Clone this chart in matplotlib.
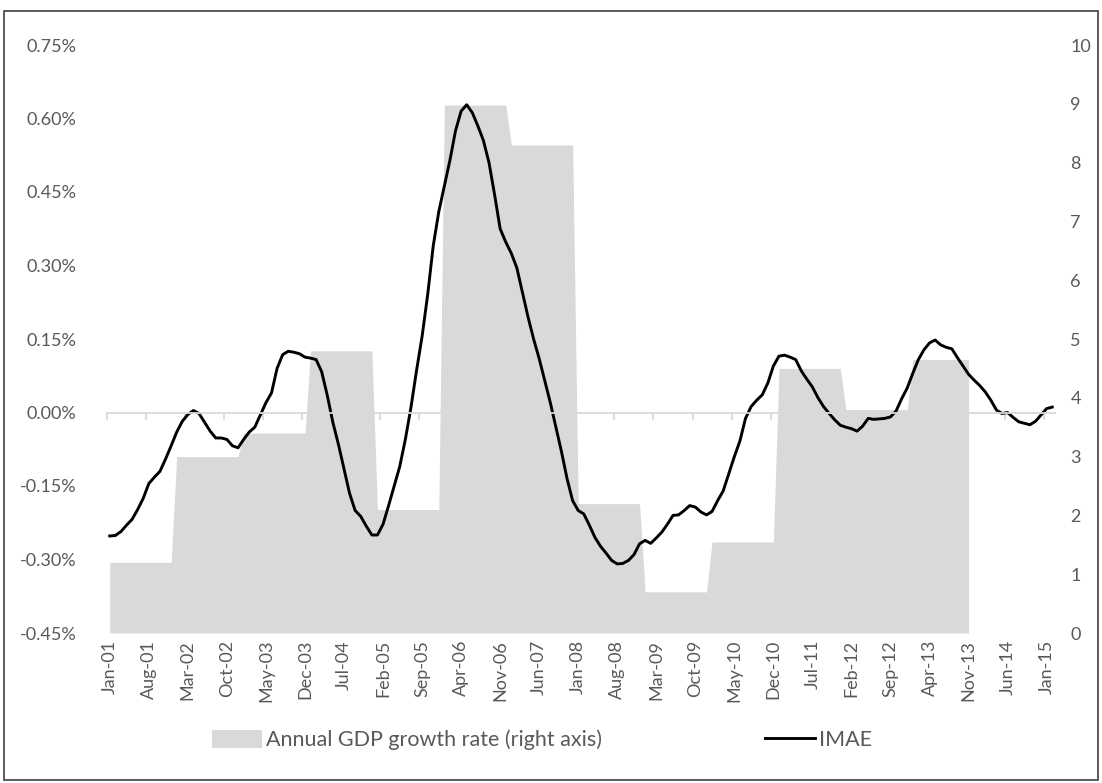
import numpy as np
import matplotlib.pyplot as plt
from matplotlib.patches import Patch, Rectangle
from matplotlib.lines import Line2D

plt.rcParams['font.family'] = ['Lato', 'DejaVu Sans']

# monthly labels Jan-01 .. Feb-15
month_names = ["Jan", "Feb", "Mar", "Apr", "May", "Jun",
               "Jul", "Aug", "Sep", "Oct", "Nov", "Dec"]
n_months = 170
month_labels = [f"{month_names[i % 12]}-{(1 + i // 12):02d}" for i in range(n_months)]

# annual GDP growth rate (right axis), 2013 only up to Nov
gdp_years = [2001, 2002, 2003, 2004, 2005, 2006, 2007, 2008, 2009, 2010, 2011, 2012, 2013]
gdp_growth = [1.2, 3.0, 3.4, 4.8, 2.1, 8.98, 8.3, 2.2, 0.7, 1.55, 4.5, 3.8, 4.65]
gdp_months = [12, 12, 12, 12, 12, 12, 12, 12, 12, 12, 12, 12, 11]

# IMAE (left axis, %)
imae = [
    -0.252, -0.251, -0.243, -0.230, -0.218, -0.198, -0.175, -0.145, -0.132, -0.120,
    -0.095, -0.068, -0.040, -0.018, -0.004, 0.004, -0.002, -0.020, -0.038, -0.052,
    -0.052, -0.055, -0.068, -0.072, -0.055, -0.040, -0.030, -0.005, 0.020, 0.040,
    0.090, 0.118, 0.125, 0.123, 0.120, 0.113, 0.111, 0.108, 0.083, 0.035,
    -0.020, -0.065, -0.115, -0.165, -0.200, -0.212, -0.232, -0.250, -0.250, -0.228,
    -0.190, -0.150, -0.110, -0.055, 0.010, 0.085, 0.155, 0.240, 0.340, 0.410,
    0.462, 0.515, 0.575, 0.615, 0.628, 0.612, 0.585, 0.555, 0.510, 0.445,
    0.375, 0.348, 0.325, 0.295, 0.245, 0.195, 0.150, 0.110, 0.065, 0.020,
    -0.030, -0.080, -0.135, -0.180, -0.200, -0.207, -0.230, -0.255, -0.273, -0.287,
    -0.302, -0.309, -0.308, -0.302, -0.290, -0.268, -0.261, -0.267, -0.256, -0.244,
    -0.228, -0.210, -0.209, -0.200, -0.190, -0.193, -0.203, -0.209, -0.202, -0.180,
    -0.160, -0.125, -0.090, -0.058, -0.012, 0.012, 0.025, 0.036, 0.060, 0.095,
    0.115, 0.117, 0.113, 0.108, 0.085, 0.068, 0.052, 0.030, 0.012, -0.002,
    -0.015, -0.026, -0.030, -0.033, -0.038, -0.028, -0.012, -0.014, -0.013, -0.012,
    -0.009, 0.003, 0.028, 0.050, 0.080, 0.108, 0.128, 0.142, 0.148, 0.138,
    0.133, 0.130, 0.112, 0.095, 0.078, 0.066, 0.055, 0.042, 0.025, 0.005,
    -0.002, 0.000, -0.010, -0.019, -0.022, -0.025, -0.018, -0.005, 0.008, 0.011,
]

left_ticks = [-0.45, -0.30, -0.15, 0.00, 0.15, 0.30, 0.45, 0.60, 0.75]
right_ticks = list(range(0, 11))

gdp_monthly = np.repeat(gdp_growth, gdp_months)
x_gdp = np.arange(len(gdp_monthly))
x = np.arange(n_months)

text_color = "#595959"
fill_color = "#d9d9d9"

fig = plt.figure(figsize=(11.02, 7.83), dpi=100)
ax = fig.add_axes([107 / 1102, 1 - 633 / 783, (1055 - 107) / 1102, (633 - 45) / 783])
ax2 = ax.twinx()

# area on the right axis, drawn behind the line
ax2.fill_between(x_gdp, gdp_monthly, 0, color=fill_color, lw=0)
ax2.set_ylim(0, 10)
ax2.set_yticks(right_ticks)
ax2.tick_params(axis='y', length=0, pad=11, labelsize=13, labelcolor=text_color)

ax.set_zorder(ax2.get_zorder() + 1)
ax.patch.set_visible(False)
ax.plot(x, imae, color="black", lw=2.1)
ax.set_ylim(-0.45, 0.75)
ax.set_yticks(left_ticks)
ax.set_yticklabels([f"{v:.2f}%" for v in left_ticks])
ax.tick_params(axis='y', length=0, pad=22, labelsize=13, labelcolor=text_color)
ax.set_xlim(-0.5, n_months - 0.5)

# horizontal axis line crossing at 0 with tick marks every 7 months
ax.spines['bottom'].set_position(('data', 0))
ax.spines['bottom'].set_color(fill_color)
ax.spines['bottom'].set_linewidth(1.3)
ax.set_xticks(np.arange(-0.5, n_months, 7))
ax.tick_params(axis='x', length=5, width=1.3, color=fill_color, labelbottom=False)

for a in (ax, ax2):
    for s in ('top', 'left', 'right'):
        a.spines[s].set_visible(False)
ax2.spines['bottom'].set_visible(False)

# month labels at the bottom of the plot
sec = ax.secondary_xaxis('bottom')
sec.spines['bottom'].set_visible(False)
sec.set_xticks(x[::7])
sec.set_xticklabels(month_labels[::7], rotation=90)
sec.tick_params(axis='x', length=0, pad=5, labelsize=13, labelcolor=text_color)

handles = [Patch(facecolor=fill_color, edgecolor='none'),
           Line2D([], [], color='black', lw=2.1)]
fig.legend(handles, ["Annual GDP growth rate (right axis)", "IMAE"],
           loc='center', bbox_to_anchor=(0.492, 1 - 740 / 783), ncol=2, frameon=False,
           fontsize=15.5, labelcolor=text_color, handlelength=2.3, handleheight=0.9,
           handletextpad=0.2, columnspacing=7.6)

fig.add_artist(Rectangle((4 / 1102, 3 / 783), 1094 / 1102, 769 / 783,
                         transform=fig.transFigure, fill=False, edgecolor="#404040", lw=1.2))

fig.savefig("out.png", dpi=100)
